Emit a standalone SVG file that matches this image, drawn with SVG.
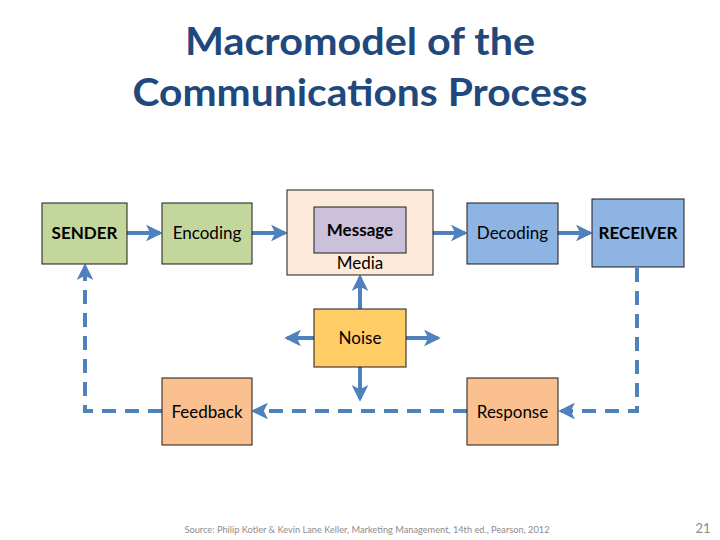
<svg xmlns="http://www.w3.org/2000/svg" width="720" height="540" viewBox="0 0 720 540">
<defs>
<style>
.box{stroke:#1a1a1a;stroke-width:1}
.t{font-family:Lato,"Open Sans","Liberation Sans",sans-serif;font-size:17px;fill:#000;text-anchor:middle}
.b{font-weight:bold}
.ln{stroke:#4F81BD;stroke-width:4;fill:none}
.dash{stroke-dasharray:14,9}
.title{font-family:Lato,"Open Sans","Liberation Sans",sans-serif;font-weight:bold;font-size:38px;fill:#1F497D;text-anchor:middle}
</style>
<marker id="ah" viewBox="0 0 12 12" refX="10" refY="6" markerWidth="4.2" markerHeight="4.2" orient="auto" markerUnits="strokeWidth">
<path d="M0,0 L12,6 L0,12 L3,6 z" fill="#4F81BD"/>
</marker>
</defs>
<rect width="720" height="540" fill="#fff"/>
<text class="title" x="360" y="55" textLength="350" lengthAdjust="spacingAndGlyphs">Macromodel of the</text>
<text class="title" x="360" y="106" textLength="455" lengthAdjust="spacingAndGlyphs">Communications Process</text>

<g id="connectors">
<line class="ln" x1="127" y1="233" x2="160" y2="233" marker-end="url(#ah)"/>
<line class="ln" x1="252" y1="233" x2="285" y2="233" marker-end="url(#ah)"/>
<line class="ln" x1="433" y1="233" x2="465" y2="233" marker-end="url(#ah)"/>
<line class="ln" x1="558" y1="233" x2="590" y2="233" marker-end="url(#ah)"/>
<line class="ln" x1="360" y1="309" x2="360" y2="277" marker-end="url(#ah)"/>
<line class="ln" x1="360" y1="367" x2="360" y2="399" marker-end="url(#ah)"/>
<line class="ln" x1="314" y1="338" x2="287" y2="338" marker-end="url(#ah)"/>
<line class="ln" x1="406" y1="338" x2="438" y2="338" marker-end="url(#ah)"/>
<polyline class="ln dash" points="637,268 637,411 561,411" marker-end="url(#ah)"/>
<line class="ln dash" x1="467" y1="411" x2="254" y2="411" marker-end="url(#ah)"/>
<polyline class="ln dash" points="162,411 85,411 85,266" marker-end="url(#ah)"/>
</g>

<g id="sender"><rect class="box" x="42" y="203" width="85" height="61" fill="#C3D69B"/><text class="t b" x="84.5" y="239">SENDER</text></g>
<g id="encoding"><rect class="box" x="162" y="203" width="90" height="61" fill="#C3D69B"/><text class="t" x="207" y="239">Encoding</text></g>
<g id="media"><rect class="box" x="287" y="190" width="146" height="85" fill="#FDEADA"/><text class="t" x="360" y="269">Media</text></g>
<g id="message"><rect class="box" x="314" y="207" width="92" height="46" fill="#CCC1DA"/><text class="t b" x="360" y="236">Message</text></g>
<g id="decoding"><rect class="box" x="467" y="203" width="91" height="61" fill="#8EB4E3"/><text class="t" x="512.5" y="239">Decoding</text></g>
<g id="receiver"><rect class="box" x="592" y="199" width="92" height="68" fill="#8EB4E3"/><text class="t b" x="638" y="239">RECEIVER</text></g>
<g id="noise"><rect class="box" x="314" y="309" width="92" height="58" fill="#FFCC66"/><text class="t" x="360" y="344">Noise</text></g>
<g id="feedback"><rect class="box" x="162" y="378" width="90" height="67" fill="#FAC090"/><text class="t" x="207" y="418">Feedback</text></g>
<g id="response"><rect class="box" x="467" y="378" width="91" height="67" fill="#FAC090"/><text class="t" x="512.5" y="418">Response</text></g>

<text x="367" y="533" font-family="Lato,'Open Sans','Liberation Sans',sans-serif" font-size="9" fill="#8c8c8c" text-anchor="middle" textLength="365" lengthAdjust="spacingAndGlyphs">Source: Philip Kotler &amp; Kevin Lane Keller, Marketing Management, 14th ed., Pearson, 2012</text>
<text x="703" y="533" font-family="Lato,'Open Sans','Liberation Sans',sans-serif" font-size="13" fill="#8c8c8c" text-anchor="middle">21</text>
</svg>
